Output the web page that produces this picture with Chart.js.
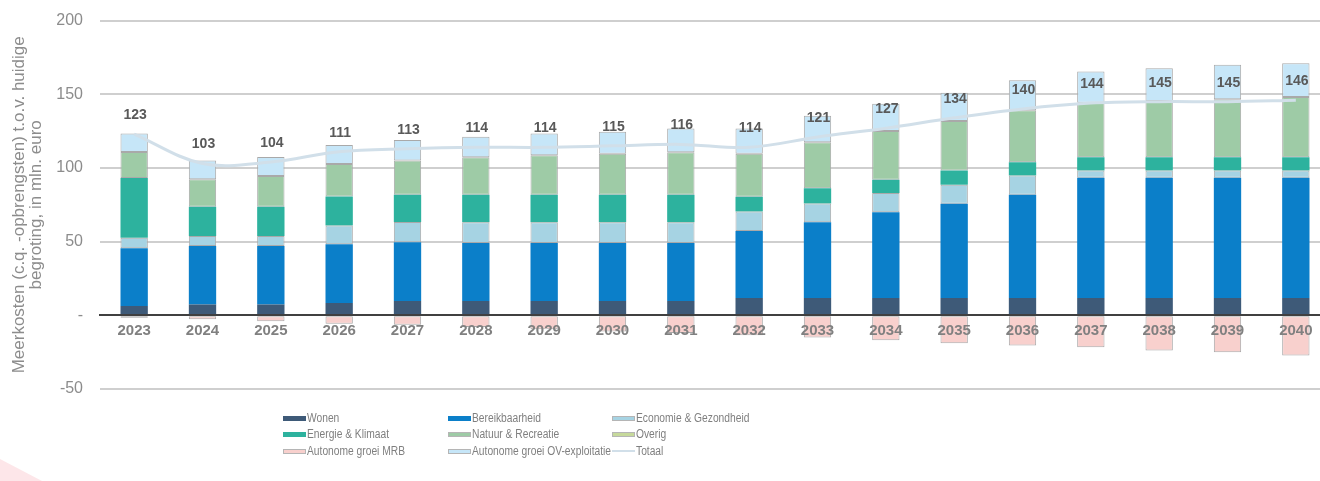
<!DOCTYPE html>
<html><head><meta charset="utf-8">
<script src="https://cdn.jsdelivr.net/npm/chart.js@4"></script>
<style>
html,body{margin:0;padding:0;background:#fff;overflow:hidden;}
#wrap{position:relative;width:1320px;height:481px;overflow:hidden;background:#fff;}
#c{position:absolute;left:0;top:-6px;}
#corner{position:absolute;left:0;top:459px;width:42px;height:22px;background:#fde6e9;clip-path:polygon(0 0,100% 100%,0 100%);}
.lg{position:absolute;font-family:"Liberation Sans",Arial,sans-serif;font-size:12.5px;color:#7f7f7f;white-space:nowrap;height:14px;line-height:14px;}
.lg .sw{position:absolute;left:0;top:5px;width:23px;height:5px;box-sizing:border-box;}
.lg .tx{position:absolute;left:24px;top:0;transform:scaleX(0.82);transform-origin:left center;}
</style></head>
<body>
<div id="wrap">
<canvas id="c" width="1340" height="490"></canvas>
<div id="corner"></div>
<div id="legend"></div>
</div>
<script>
const years = ['2023','2024','2025','2026','2027','2028','2029','2030','2031','2032','2033','2034','2035','2036','2037','2038','2039','2040'];
const wonen = [6.4, 7.3, 7.3, 8.4, 9.8, 9.8, 9.8, 9.8, 9.8, 11.8, 11.8, 11.8, 11.8, 11.8, 11.8, 11.8, 11.8, 11.8];
const bereikbaarheid = [39.1, 39.8, 39.8, 39.8, 39.8, 39.3, 39.3, 39.3, 39.3, 45.5, 51.4, 58.2, 63.9, 70.0, 81.6, 81.6, 81.6, 81.6];
const economie = [7.2, 6.8, 6.8, 12.7, 13.8, 14.1, 14.1, 14.1, 14.1, 13.2, 12.7, 13.0, 12.9, 13.0, 4.8, 4.8, 4.8, 4.8];
const energie = [40.5, 19.7, 19.7, 19.8, 18.4, 18.6, 18.6, 18.6, 18.6, 10.0, 10.4, 9.0, 9.6, 9.0, 9.0, 9.0, 9.0, 9.0];
const natuur = [17.7, 18.7, 21.0, 22.0, 23.2, 25.5, 26.8, 27.8, 28.9, 29.1, 31.2, 33.0, 33.6, 35.3, 37.1, 38.2, 39.4, 40.9];
const overig = [0, 0, 0, 0, 0, 0, 0, 0, 0, 0, 0, 0, 0, 0, 0, 0, 0, 0];
const groeiMRB = [-1.6, -2.7, -4.1, -5.7, -6.4, -8.0, -9.5, -11.0, -12.0, -13.5, -15.0, -17.0, -18.9, -20.5, -21.6, -23.9, -25.0, -27.3];
const groeiOV = [12.5, 12.7, 12.9, 12.8, 13.9, 13.9, 14.8, 15.0, 16.1, 17.2, 18.0, 18.6, 19.2, 20.4, 21.1, 22.3, 23.4, 23.0];
const totaal = [123, 103, 104, 111, 113, 114, 114, 115, 116, 114, 121, 127, 134, 140, 144, 145, 145, 146];
const yTicks = [-50, 0, 50, 100, 150, 200];

const FONT = '"Liberation Sans", Arial, sans-serif';
const colors = {
  wonen:'#3e5a78', bereik:'#0b7fc9', econ:'#a6d3e3', energie:'#2db29e',
  natuur:'#9ecba6', overig:'#c6d99b', mrb:'#f8d0cd', ov:'#c6e6f8', totaal:'#d1dfe9'
};
const EDGE = '#a9a9a9';

function barDs(label, data, color, edged){
  return {type:'bar', label, data, backgroundColor:color,
    borderColor: edged ? EDGE : color, borderWidth: edged ? 1 : 0, borderSkipped:false,
    stack:'s', order:1, barPercentage:0.8, categoryPercentage:0.5};
}

const datasets = [
  barDs('Wonen', wonen, colors.wonen, false),
  barDs('Bereikbaarheid', bereikbaarheid, colors.bereik, false),
  barDs('Economie & Gezondheid', economie, colors.econ, true),
  barDs('Energie & Klimaat', energie, colors.energie, false),
  barDs('Natuur & Recreatie', natuur, colors.natuur, true),
  barDs('Overig', overig, colors.overig, false),
  barDs('Autonome groei MRB', groeiMRB, colors.mrb, true),
  barDs('Autonome groei OV-exploitatie', groeiOV, colors.ov, true),
  {type:'line', label:'Totaal', data: totaal, borderColor: colors.totaal, backgroundColor: colors.totaal,
   borderWidth:3, pointRadius:0, tension:0.35, yAxisID:'y1', order:0, fill:false}
];

const totalLabels = {
  id:'totalLabels',
  afterDatasetsDraw(chart){
    const meta = chart.getDatasetMeta(chart.data.datasets.length-1);
    const ctx = chart.ctx;
    ctx.save();
    ctx.font = 'bold 14px ' + FONT;
    ctx.fillStyle = '#595959';
    ctx.textAlign = 'center';
    ctx.textBaseline = 'middle';
    meta.data.forEach((pt,i)=>{ ctx.fillText(String(totaal[i]), pt.x + 1, pt.y - 19); });
    ctx.restore();
  }
};

new Chart(document.getElementById('c'), {
  data:{labels:years, datasets},
  options:{
    responsive:false, animation:false, devicePixelRatio:1,
    layout:{padding:{left:0, right:10, top:10, bottom:95}},
    plugins:{legend:{display:false}, tooltip:{enabled:false}},
    scales:{
      x:{type:'category', stacked:true, position:{y:0},
         grid:{display:false, drawTicks:false},
         border:{display:true, color:'#404040', width:2, z:2},
         ticks:{z:2, color:'#808080', font:{family:FONT, size:15, weight:'bold'}, padding:7, maxRotation:0, autoSkip:false}},
      y:{type:'linear', stacked:true, min:-50, max:200, position:'left',
         afterBuildTicks(scale){ scale.ticks = yTicks.map(v=>({value:v})); },
         afterFit(scale){ scale.width = 100; },
         grid:{drawTicks:false, lineWidth:2, color:(c)=> c.tick && c.tick.value===0 ? 'rgba(0,0,0,0)' : '#cfcfcf'},
         border:{display:false},
         ticks:{color:'#8c8c8c', font:{family:FONT, size:16}, padding:17, callback:(v)=> v===0 ? '-' : v},
         title:{display:true, text:['Meerkosten (c.q. -opbrengsten) t.o.v. huidige','begroting, in mln. euro'],
                color:'#8c8c8c', font:{family:FONT, size:17, lineHeight:1}, padding:{top:11, bottom:0}}},
      y1:{type:'linear', min:-50, max:200, display:false}
    }
  },
  plugins:[totalLabels]
});

// legend (3 columns x 3 rows, like the reference)
const legendItems = [
  ['Wonen', colors.wonen, 'box'], ['Bereikbaarheid', colors.bereik, 'box'], ['Economie & Gezondheid', colors.econ, 'box'],
  ['Energie & Klimaat', colors.energie, 'box'], ['Natuur & Recreatie', colors.natuur, 'box'], ['Overig', colors.overig, 'box'],
  ['Autonome groei MRB', colors.mrb, 'box'], ['Autonome groei OV-exploitatie', colors.ov, 'box'], ['Totaal', colors.totaal, 'line']
];
const colX = [283, 448, 612];
const rowY = [411, 427, 444];
const lg = document.getElementById('legend');
legendItems.forEach((it,i)=>{
  const d = document.createElement('div');
  d.className = 'lg';
  d.style.left = colX[i%3] + 'px';
  d.style.top = rowY[Math.floor(i/3)] + 'px';
  const sw = document.createElement('div');
  sw.className = 'sw';
  sw.style.background = it[1];
  if (it[2]==='line'){ sw.style.height='2px'; sw.style.top='6px'; }
  else if (['#a6d3e3','#f8d0cd','#c6e6f8','#c6d99b','#9ecba6'].includes(it[1])) sw.style.border='1px solid #b5b5b5';
  const tx = document.createElement('span');
  tx.className = 'tx';
  tx.textContent = it[0];
  d.appendChild(sw); d.appendChild(tx);
  lg.appendChild(d);
});
</script>
</body></html>
